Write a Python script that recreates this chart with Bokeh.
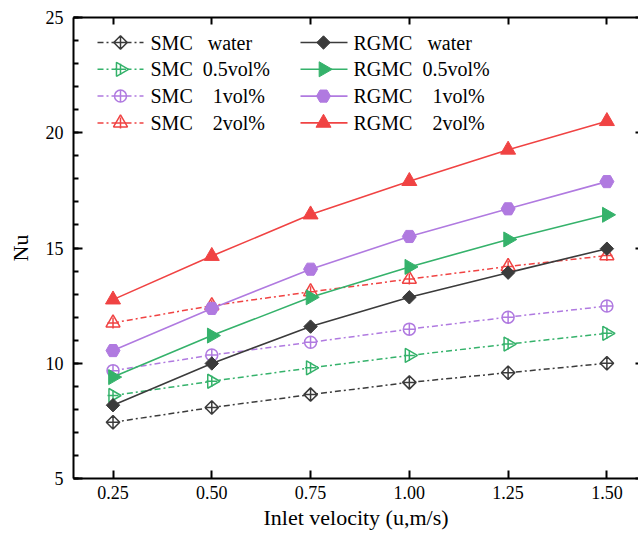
import numpy as np
from bokeh.plotting import figure
from bokeh.models import (Range1d, LinearAxis, FixedTicker, NumeralTickFormatter,
                          CustomJSTickFormatter)
from bokeh.core.properties import value
from bokeh.embed import file_html
from bokeh.resources import INLINE

# Inlet velocity (m/s)
velocity = [0.25, 0.50, 0.75, 1.00, 1.25, 1.50]

# Nusselt number, smooth mini-channel (SMC)
smc_water = [7.44, 8.08, 8.64, 9.17, 9.59, 10.00]
smc_05 = [8.60, 9.22, 9.80, 10.34, 10.83, 11.30]
smc_1 = [9.68, 10.36, 10.91, 11.48, 12.00, 12.48]
smc_2 = [11.75, 12.50, 13.10, 13.65, 14.20, 14.67]

# Nusselt number, RGMC
rgmc_water = [8.18, 9.99, 11.59, 12.86, 13.93, 14.97]
rgmc_05 = [9.40, 11.20, 12.86, 14.18, 15.37, 16.44]
rgmc_1 = [10.55, 12.38, 14.08, 15.50, 16.70, 17.88]
rgmc_2 = [12.76, 14.65, 16.45, 17.90, 19.26, 20.50]

sp = "\u00a0"
smc_labels = ["SMC" + sp * 3 + "water", "SMC" + sp * 2 + "0.5vol%",
              "SMC" + sp * 4 + "1vol%", "SMC" + sp * 4 + "2vol%"]
rgmc_labels = ["RGMC" + sp * 3 + "water", "RGMC" + sp * 2 + "0.5vol%",
               "RGMC" + sp * 4 + "1vol%", "RGMC" + sp * 4 + "2vol%"]

x_ticks = [0.25, 0.50, 0.75, 1.00, 1.25, 1.50]
y_ticks = [5, 10, 15, 20, 25]

FONT = "Liberation Serif"
DARK = "#3b3b3b"
GREEN = "#35b26b"
PURPLE = "#b07ae0"
RED = "#f04343"
DASH = "6 3 2 3"

p = figure(width=638, height=539, output_backend="svg", toolbar_location=None,
           x_range=Range1d(0.15, 1.58), y_range=Range1d(5, 25),
           min_border_left=73, min_border_right=0, min_border_top=17,
           min_border_bottom=61)
p.outline_line_color = None
p.grid.visible = False
p.background_fill_color = "white"
p.border_fill_color = "white"

# pixel-like ranges over the frame, used for the legend block
p.extra_x_ranges = {"lx": Range1d(0, 565)}
p.extra_y_ranges = {"ly": Range1d(461, 0)}


def style_axis(ax, tick_in):
    ax.axis_line_width = 2
    ax.axis_line_color = "black"
    ax.major_tick_line_width = 2
    ax.minor_tick_line_width = 2
    ax.major_tick_in = tick_in
    ax.major_tick_out = 0
    ax.minor_tick_in = 5
    ax.minor_tick_out = 0
    ax.major_label_text_font = FONT
    ax.major_label_text_font_size = "18px"
    ax.major_label_text_color = "black"
    ax.axis_label_text_font = FONT
    ax.axis_label_text_font_size = "22px"
    ax.axis_label_text_font_style = "normal"
    ax.axis_label_text_color = "black"


xa = p.xaxis[0]
style_axis(xa, 8)
xa.ticker = FixedTicker(ticks=x_ticks, minor_ticks=[])
xa.formatter = NumeralTickFormatter(format="0.00")
xa.axis_label = "Inlet velocity (u,m/s)"
xa.major_label_standoff = 7
xa.axis_label_standoff = 3

ya = p.yaxis[0]
style_axis(ya, 9)
ya.ticker = FixedTicker(ticks=y_ticks, minor_ticks=list(range(5, 26)))
ya.axis_label = "Nu"
ya.major_label_standoff = 10
ya.axis_label_standoff = 10

blank = CustomJSTickFormatter(code="return ''")

top = LinearAxis(ticker=FixedTicker(ticks=x_ticks, minor_ticks=[]), formatter=blank)
style_axis(top, 7)
top.major_label_standoff = 0
p.add_layout(top, "above")

right = LinearAxis(ticker=FixedTicker(ticks=y_ticks, minor_ticks=[]), formatter=blank)
style_axis(right, 3)
right.axis_line_color = None
right.major_label_standoff = 0
p.add_layout(right, "right")


def draw_marker(xs, ys, color, kind, filled, **rng):
    if filled:
        if kind == "diamond":
            p.scatter(xs, ys, marker="square", angle=np.pi / 4, size=9.5,
                      line_color=color, fill_color=color, **rng)
        elif kind == "hex":
            p.scatter(xs, ys, marker="hex", size=14,
                      line_color=color, fill_color=color, **rng)
        else:
            ang = 0 if kind == "tri_up" else -np.pi / 2
            p.scatter(xs, ys, marker="triangle", angle=ang, size=15,
                      line_color=color, fill_color=color, **rng)
    else:
        if kind == "diamond":
            p.scatter(xs, ys, marker="square_x", angle=np.pi / 4, size=9.5,
                      line_color=color, line_width=1.5, fill_color="white", **rng)
        elif kind == "circle":
            p.scatter(xs, ys, marker="circle_cross", size=12,
                      line_color=color, line_width=1.5, fill_color="white", **rng)
        else:
            ang = 0 if kind == "tri_up" else -np.pi / 2
            p.scatter(xs, ys, marker="triangle", angle=ang, size=14,
                      line_color=color, line_width=1.5, fill_color="white", **rng)
            p.scatter(xs, ys, marker="cross", size=11,
                      line_color=color, line_width=1.5, **rng)


smc_series = [(smc_water, DARK, "diamond"), (smc_05, GREEN, "tri_right"),
              (smc_1, PURPLE, "circle"), (smc_2, RED, "tri_up")]
rgmc_series = [(rgmc_water, DARK, "diamond"), (rgmc_05, GREEN, "tri_right"),
               (rgmc_1, PURPLE, "hex"), (rgmc_2, RED, "tri_up")]

# smooth channel: dash-dot lines with open crossed markers
for y, color, kind in smc_series:
    p.line(velocity, y, line_color=color, line_width=1.5, line_dash=DASH)
    draw_marker(velocity, y, color, kind, False)

# RGMC: solid lines with filled markers, drawn on top
for y, color, kind in rgmc_series:
    p.line(velocity, y, line_color=color, line_width=1.6)
    draw_marker(velocity, y, color, kind, True)

# legend block: two columns of four entries
LG = dict(x_range_name="lx", y_range_name="ly")
ROW0, ROW_DY = 25, 26.8


def legend_column(series, labels, x0, dashed):
    for i, ((_, color, kind), label) in enumerate(zip(series, labels)):
        yy = ROW0 + i * ROW_DY
        if dashed:
            p.line([x0, x0 + 46], [yy, yy], line_color=color, line_width=1.5,
                   line_dash=DASH, **LG)
        else:
            p.line([x0, x0 + 47], [yy, yy], line_color=color, line_width=1.6, **LG)
        draw_marker([x0 + 23], [yy], color, kind, not dashed, **LG)
        p.text([x0 + 53], [yy], text=[label], text_font=value(FONT),
               text_font_size="20px", text_color="black",
               text_baseline="middle", text_align="left", **LG)


legend_column(smc_series, smc_labels, 24, True)
legend_column(rgmc_series, rgmc_labels, 227, False)

open("out.html", "w").write(file_html(p, INLINE))
